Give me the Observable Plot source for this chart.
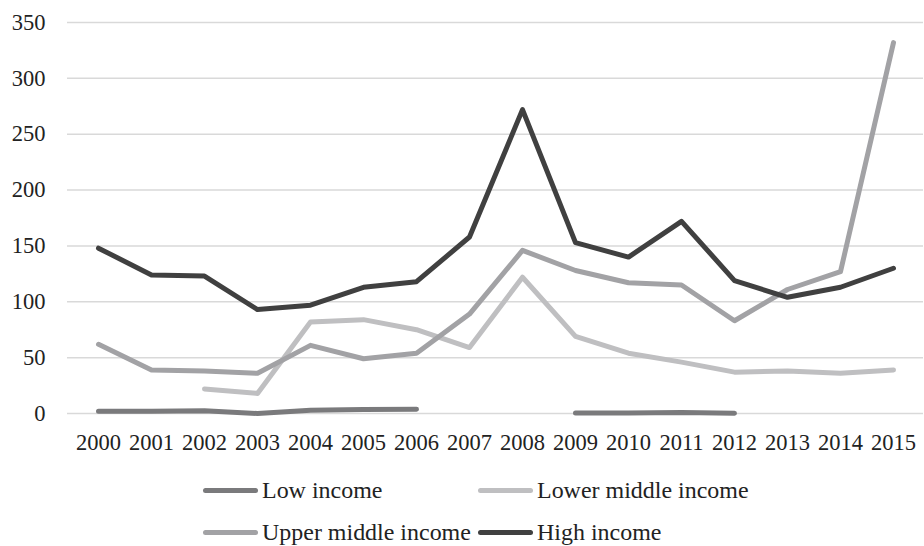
<!DOCTYPE html>
<html>
<head>
<meta charset="utf-8">
<script src="https://cdn.jsdelivr.net/npm/d3@7"></script>
<script src="https://cdn.jsdelivr.net/npm/@observablehq/plot@0.6"></script>
<style>
  html, body { margin: 0; padding: 0; background: #fff; }
  #chart { width: 924px; height: 546px; position: relative; overflow: hidden; }
  #legend { position: absolute; left: 0; top: 469px; width: 924px; }
  .row { display: flex; height: 42px; align-items: center; padding-left: 203px; }
  .item { display: flex; align-items: center; width: 275px; }
  .sw { width: 55px; height: 5px; border-radius: 3px; margin-right: 4px; flex: none; }
  .lab { color: #222; position: relative; top: 1px; white-space: nowrap; line-height: 1; }
</style>
</head>
<body>
<div id="chart"></div>
<script>
const years = ["2000","2001","2002","2003","2004","2005","2006","2007","2008","2009","2010","2011","2012","2013","2014","2015"];
const seriesNames = ["Low income", "Lower middle income", "Upper middle income", "High income"];
const seriesColors = ["#7a7a7c", "#bfbfc1", "#a2a2a5", "#404040"];
const lowIncome =          [2, 2, 2.5, 0, 3, 3.5, 3.8, null, null, 0.5, 0.5, 1, 0.3, null, null, null];
const lowerMiddleIncome =  [null, null, 22, 18, 82, 84, 75, 59, 122, 69, 54, 46, 37, 38, 36, 39];
const upperMiddleIncome =  [62, 39, 38, 36, 61, 49, 54, 89, 146, 128, 117, 115, 83, 111, 127, 332];
const highIncome =         [148, 124, 123, 93, 97, 113, 118, 158, 272, 153, 140, 172, 119, 104, 113, 130];
const yTicks = [0, 50, 100, 150, 200, 250, 300, 350];

const FONT = '"Liberation Serif", Tinos, "Times New Roman", "Noto Serif", "DejaVu Serif", "Liberation Sans", serif';

// size the fonts so the texts take the widths they have in the reference
const ctx = document.createElement("canvas").getContext("2d");
ctx.font = "100px " + FONT;
const tickSize = Math.min(23, 100 * 45 / ctx.measureText("2000").width);
const legendSize = Math.min(24, 100 * 209 / ctx.measureText("Upper middle income").width);

const allSeries = [lowIncome, lowerMiddleIncome, upperMiddleIncome, highIncome];
const data = [];
allSeries.forEach((vals, i) => {
  vals.forEach((v, j) => data.push({series: seriesNames[i], year: years[j], value: v == null ? NaN : v}));
});

const plot = Plot.plot({
  width: 924,
  height: 465,
  marginTop: 22,
  marginBottom: 52,
  marginLeft: 67,
  marginRight: 1,
  style: { fontFamily: FONT, fontSize: tickSize + "px", color: "#222", background: "#fff" },
  x: { type: "point", domain: years, padding: 0.5, label: null },
  y: { domain: [0, 350], label: null },
  color: { domain: seriesNames, range: seriesColors },
  marks: [
    Plot.gridY(yTicks, { stroke: "#d9d9d9", strokeOpacity: 1, strokeWidth: 1.5 }),
    Plot.axisY(yTicks, { tickSize: 0, tickPadding: 22, fontSize: tickSize, fill: "#222", label: null }),
    Plot.axisX(years, { tickSize: 0, tickPadding: 21, fontSize: tickSize, fill: "#222", label: null }),
    Plot.line(data, { x: "year", y: "value", z: "series", stroke: "series", strokeWidth: 5, strokeLinecap: "round", strokeLinejoin: "round" })
  ]
});

const chart = document.getElementById("chart");
chart.style.fontFamily = FONT;
chart.appendChild(plot);

const legend = document.createElement("div");
legend.id = "legend";
const rows = [[0, 1], [2, 3]];
rows.forEach(r => {
  const row = document.createElement("div");
  row.className = "row";
  r.forEach(i => {
    const item = document.createElement("div");
    item.className = "item";
    const sw = document.createElement("span");
    sw.className = "sw";
    sw.style.background = seriesColors[i];
    const lab = document.createElement("span");
    lab.className = "lab";
    lab.style.fontSize = legendSize + "px";
    lab.textContent = seriesNames[i];
    item.appendChild(sw);
    item.appendChild(lab);
    row.appendChild(item);
  });
  legend.appendChild(row);
});
chart.appendChild(legend);
</script>
</body>
</html>
